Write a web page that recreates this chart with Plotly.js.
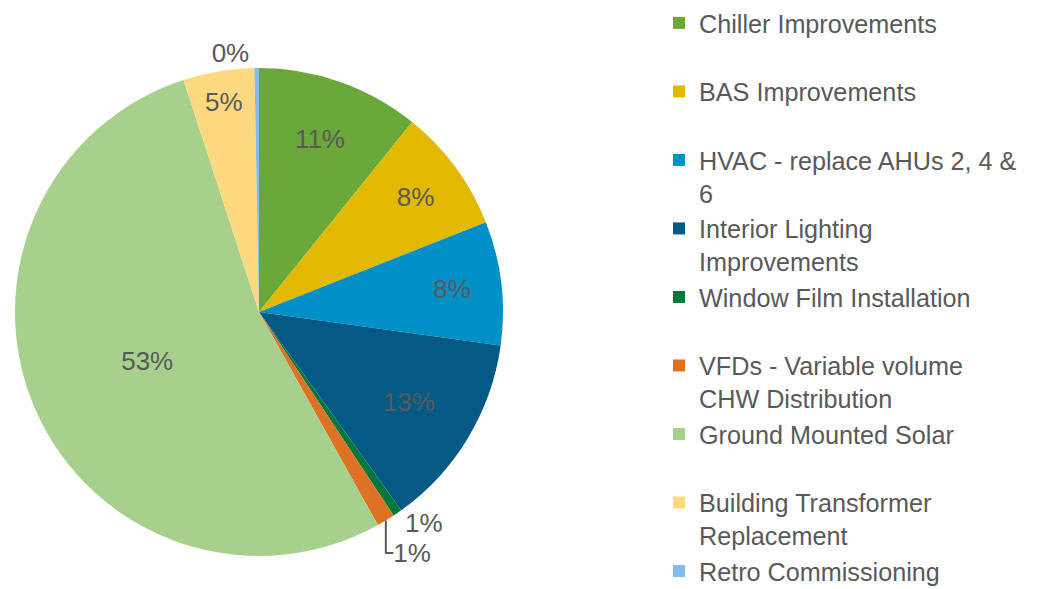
<!DOCTYPE html>
<html>
<head>
<meta charset="utf-8">
<script src="https://cdn.plot.ly/plotly-3.0.1.min.js"></script>
<style>html,body{margin:0;padding:0;background:#fff;}#chart{width:1050px;height:589px;}</style>
</head>
<body>
<div id="chart"></div>
<script>
const categories = [
  "Chiller Improvements<br>\u00a0",
  "BAS Improvements<br>\u00a0",
  "HVAC - replace AHUs 2, 4 &amp;<br>6",
  "Interior Lighting<br>Improvements",
  "Window Film Installation<br>\u00a0",
  "VFDs - Variable volume<br>CHW Distribution",
  "Ground Mounted Solar<br>\u00a0",
  "Building Transformer<br>Replacement",
  "Retro Commissioning<br>\u00a0"
];
const shares = [10.8, 8.2, 8.2, 12.9, 0.6, 1.2, 53.1, 4.7, 0.3];
const sliceColors = ["#6AA83A", "#E3B900", "#0090C8", "#045A85", "#00783C", "#DD7224", "#A7D08D", "#FFD980", "#80BDE8"];
const textPositions = ["inside","inside","inside","inside","outside","outside","inside","inside","outside"];

const W = 1050, H = 589;
const trace = {
  type: "pie",
  labels: categories,
  values: shares,
  sort: false,
  direction: "clockwise",
  rotation: 0,
  marker: { colors: sliceColors, line: { width: 0 } },
  texttemplate: "%{percent:.0%}",
  textposition: textPositions,
  insidetextorientation: "horizontal",
  textfont: { family: "Arial, Liberation Sans, sans-serif", size: 26, color: "#595959" },
  outsidetextfont: { family: "Arial, Liberation Sans, sans-serif", size: 26, color: "#595959" },
  domain: { x: [15 / W, 503 / W], y: [1 - 556 / H, 1 - 68 / H] },
  hoverinfo: "label+percent"
};

const layout = {
  width: W, height: H,
  margin: { l: 0, r: 0, t: 0, b: 0 },
  paper_bgcolor: "#ffffff",
  showlegend: true,
  legend: {
    x: 659 / W, xanchor: "left",
    y: 1, yanchor: "top",
    valign: "top",
    maxheight: 800,
    font: { family: "Arial, Liberation Sans, sans-serif", size: 25.2, color: "#595959" },
    bgcolor: "rgba(0,0,0,0)"
  },
  font: { family: "Arial, Liberation Sans, sans-serif", color: "#595959" }
};

Plotly.newPlot("chart", [trace], layout, { displayModeBar: false, staticPlot: true });
</script>
</body>
</html>
